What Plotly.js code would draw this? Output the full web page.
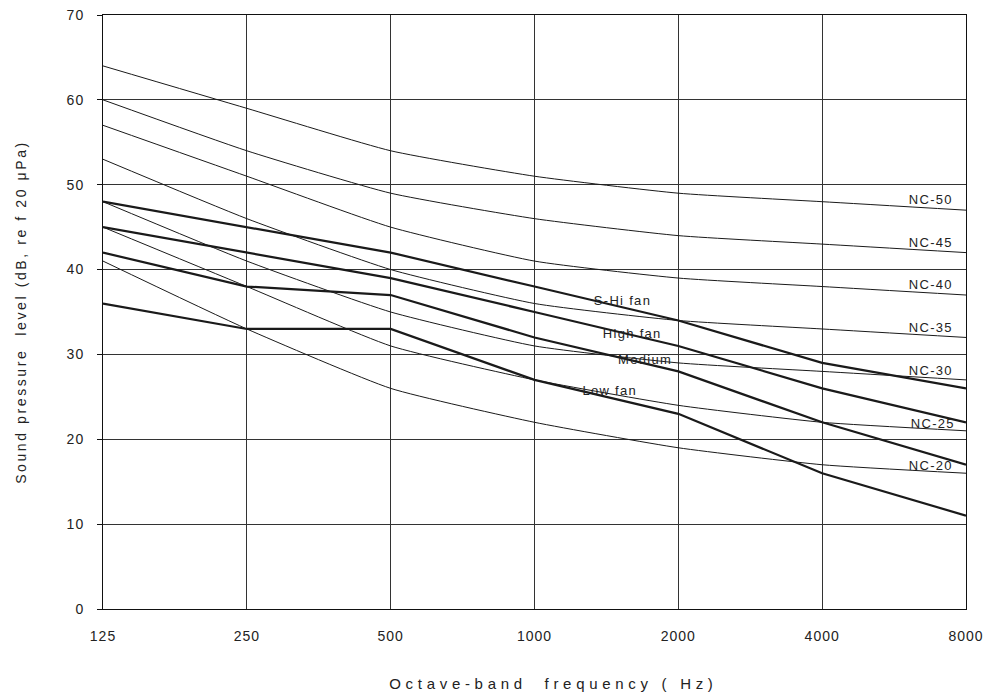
<!DOCTYPE html>
<html><head><meta charset="utf-8">
<script src="https://cdn.plot.ly/plotly-3.0.1.min.js"></script>
<style>
html,body{margin:0;padding:0;background:#fff}
#chart{width:987px;height:699px}
#chart .ytitle{letter-spacing:2.6px}
#chart .xtick text,#chart .ytick text{letter-spacing:1px}
#chart .annotation-text{letter-spacing:1.3px}
</style>
</head><body><div id="chart"></div>
<script>
const freqs = [125, 250, 500, 1000, 2000, 4000, 8000];
const freqLabels = ["125", "250", "500", "1000", "2000", "4000", "8000"];
const nc50 = [64, 59, 54, 51, 49, 48, 47];
const nc45 = [60, 54, 49, 46, 44, 43, 42];
const nc40 = [57, 51, 45, 41, 39, 38, 37];
const nc35 = [53, 46, 40, 36, 34, 33, 32];
const nc30 = [48, 41, 35, 31, 29, 28, 27];
const nc25 = [45, 38, 31, 27, 24, 22, 21];
const nc20 = [41, 33, 26, 22, 19, 17, 16];
const sHiFan = [48, 45, 42, 38, 34, 29, 26];
const highFan = [45, 42, 39, 35, 31, 26, 22];
const mediumFan = [42, 38, 37, 32, 28, 22, 17];
const lowFan = [36, 33, 33, 27, 23, 16, 11];
const ncNames = ["NC-50", "NC-45", "NC-40", "NC-35", "NC-30", "NC-25", "NC-20"];
const fanNames = ["S-Hi fan", "High fan", "Medium", "Low fan"];
const xTitle = "Octave-band  frequency ( Hz)";
const yTitle = "Sound pressure  level (dB, re f 20 μPa)";

const ncSeries = [nc50, nc45, nc40, nc35, nc30, nc25, nc20];
const fanSeries = [sHiFan, highFan, mediumFan, lowFan];

const traces = [];
ncSeries.forEach((s, i) => traces.push({
  x: freqs, y: s, name: ncNames[i], type: 'scatter', mode: 'lines',
  line: {color: '#1a1a1a', width: 1, shape: 'spline', smoothing: 0.5},
  hoverinfo: 'skip'
}));
fanSeries.forEach((s, i) => traces.push({
  x: freqs, y: s, name: fanNames[i], type: 'scatter', mode: 'lines',
  line: {color: '#1a1a1a', width: 2.2},
  hoverinfo: 'skip'
}));

const L = 103, R = 966, T = 15, B = 609;
function px(xp) { return (xp - L) / (R - L); }
function py(yp) { return (B - yp) / (B - T); }
const labelPos = [
  [931, 200], [931, 242], [931, 284], [931, 327], [931, 370], [933, 423], [931, 465]
];
const fanLabelPos = [[622, 300], [632, 333], [645, 359], [610, 390]];
const annotations = [];
const annFont = {family: 'Liberation Sans, Arial, sans-serif', size: 13, color: '#222'};
ncNames.forEach((n, i) => annotations.push({
  xref: 'paper', yref: 'paper', x: px(labelPos[i][0]), y: py(labelPos[i][1]),
  xanchor: 'center', yanchor: 'middle',
  text: n, showarrow: false, font: annFont
}));
fanNames.forEach((n, i) => annotations.push({
  xref: 'paper', yref: 'paper', x: px(fanLabelPos[i][0]), y: py(fanLabelPos[i][1]),
  xanchor: 'center', yanchor: 'middle',
  text: n, showarrow: false, font: annFont
}));
annotations.push({
  xref: 'paper', yref: 'paper', x: px(553), y: py(683),
  xanchor: 'center', yanchor: 'middle',
  text: xTitle, showarrow: false,
  font: {family: 'Liberation Sans, Arial, sans-serif', size: 15, color: '#222'}
});

const layout = {
  width: 987, height: 699,
  margin: {l: L, r: 987 - R, t: T, b: 699 - B},
  paper_bgcolor: '#fff', plot_bgcolor: '#fff',
  showlegend: false,
  font: {family: 'Liberation Sans, Arial, sans-serif', color: '#222'},
  xaxis: {
    type: 'log', range: [Math.log10(125), Math.log10(8000)],
    tickvals: freqs, ticktext: freqLabels,
    showgrid: true, gridcolor: '#333', gridwidth: 1,
    showline: true, linecolor: '#111', linewidth: 1, mirror: true,
    ticks: '', tickfont: {size: 14, color: '#222'}, ticklabelstandoff: 14,
    zeroline: false
  },
  yaxis: {
    range: [0, 70], tickvals: [0, 10, 20, 30, 40, 50, 60, 70],
    showgrid: true, gridcolor: '#333', gridwidth: 1,
    showline: true, linecolor: '#111', linewidth: 1, mirror: true,
    ticks: 'outside', ticklen: 5, tickcolor: '#111', tickfont: {size: 14, color: '#222'},
    ticklabelstandoff: 10, zeroline: false,
    title: {text: yTitle, font: {size: 14, color: '#222'}, standoff: 38}
  },
  annotations: annotations
};
Plotly.newPlot('chart', traces, layout, {staticPlot: true}).then(function () {
  document.querySelectorAll('#chart .annotation-text').forEach(function (t) {
    if (t.textContent.indexOf('Octave') === 0) t.style.letterSpacing = '4.7px';
  });
});
</script></body></html>
